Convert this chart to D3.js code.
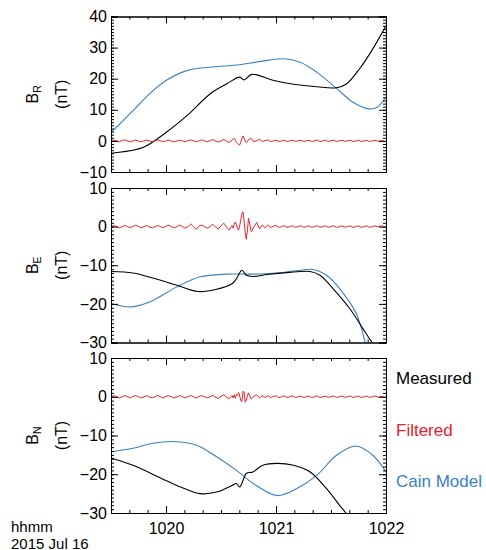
<!DOCTYPE html>
<html>
<head>
<meta charset="utf-8">
<script src="https://cdn.jsdelivr.net/npm/d3@7"></script>
<style>
  body { margin: 0; background: #fff; }
  svg { font-family: "Liberation Sans", Arial, sans-serif; }
</style>
</head>
<body>
<svg id="chart" width="486" height="550"></svg>
<script>
// time is in hhmm-style minutes (1019.5 = 10:19:30)
const xTicks = [1020, 1021, 1022]
const xTickLabels = ['1020', '1021', '1022']
const legendNames = ['Measured', 'Filtered', 'Cain Model']

// B_R panel
const measR_t = [1019.5, 1019.52, 1019.79, 1020.0, 1020.19, 1020.4, 1020.55, 1020.67, 1020.71, 1020.78, 1020.98, 1021.16, 1021.37, 1021.55, 1021.64, 1021.76, 1021.88, 1022.0]
const measR = [-4.0, -3.9, -2.1, 2.7, 8.1, 15.1, 18.3, 20.5, 19.6, 21.4, 19.4, 18.2, 17.4, 17.1, 18.3, 23.2, 29.6, 37.0]
const cainR_t = [1019.5, 1019.7, 1019.85, 1020.0, 1020.19, 1020.4, 1020.67, 1020.85, 1021.07, 1021.22, 1021.37, 1021.55, 1021.7, 1021.84, 1021.92, 1022.0]
const cainR = [2.7, 9.7, 15.1, 19.4, 22.6, 23.7, 24.5, 25.5, 26.4, 25.3, 22.1, 16.9, 12.4, 10.3, 10.8, 14.2]

// B_E panel
const measE_t = [1019.5, 1019.7, 1019.88, 1020.1, 1020.29, 1020.45, 1020.6, 1020.64, 1020.69, 1020.73, 1020.79, 1020.92, 1021.1, 1021.31, 1021.4, 1021.52, 1021.67, 1021.79, 1021.88, 1021.95]
const measE = [-11.6, -12.0, -13.3, -15.2, -16.8, -16.3, -14.8, -13.5, -11.3, -12.6, -12.9, -12.4, -11.9, -11.6, -12.6, -16.1, -21.2, -26.4, -30.3, -33]
const cainE_t = [1019.5, 1019.67, 1019.85, 1020.1, 1020.31, 1020.55, 1020.79, 1021.01, 1021.22, 1021.34, 1021.46, 1021.58, 1021.73, 1021.81, 1021.86]
const cainE = [-19.9, -20.8, -19.5, -15.6, -13.0, -12.3, -12.3, -12.0, -11.3, -11.1, -12.6, -16.1, -22.5, -29.9, -35]

// B_N panel
const measN_t = [1019.5, 1019.7, 1020.0, 1020.16, 1020.31, 1020.46, 1020.6, 1020.64, 1020.67, 1020.7, 1020.73, 1020.79, 1020.88, 1021.01, 1021.16, 1021.31, 1021.46, 1021.58, 1021.64, 1021.72]
const measN = [-15.8, -17.7, -21.6, -23.6, -25.0, -24.6, -22.9, -22.4, -23.3, -21.6, -19.8, -19.4, -17.7, -17.2, -17.7, -19.4, -23.7, -28.1, -30.2, -34]
const cainN_t = [1019.5, 1019.7, 1019.88, 1020.1, 1020.28, 1020.46, 1020.64, 1020.82, 1021.01, 1021.19, 1021.37, 1021.55, 1021.73, 1021.88, 1022.0]
const cainN = [-14.2, -13.3, -12.0, -11.6, -12.5, -15.5, -19.0, -22.9, -25.5, -23.7, -20.3, -15.1, -12.7, -15.1, -19.4]

// filtered series: 1.5 s samples, 0.6 s around the burst
const filtT = d3.range(0, 44).map(i => 1019.5 + i * 0.025)
  .concat(d3.range(0, 16).map(i => 1020.6 + i * 0.01))
  .concat(d3.range(1, 50).map(i => 1020.75 + i * 0.025))
const filtR = [
  0, 0.3, 0, -0.3, 0.1, 0.35, 0, -0.25, 0, 0.3, -0.1, -0.3, 0, 0.25, 0, -0.3, 0.1, 0.3, 0, -0.2, 0, 0.3,
  -0.1, -0.3, 0, 0.2, 0, -0.3, 0.1, 0.3, 0, -0.3, 0, 0.35, 0, -0.3, 0.1, 0.4, 0, -0.4, 0, 0.5, -0.1, -0.5,
  0.2, 0.6, 0.8, 0.3, -0.4, -0.9, -1.2, -1.3, -0.3, 0.8, 1.6, 0.9, 0, -0.5, -0.2, 0.4,
  0.8, -0.3, 0.1, 0.5, -0.2, 0.1, 0.3, -0.2, 0, 0.2, -0.2, 0, 0.2, -0.2, 0, 0.25, -0.15, 0, 0.2, -0.2, 0, 0.2, -0.2, 0,
  0.25, -0.2, 0, 0.2, -0.2, 0.05, 0.2, -0.2, 0, 0.2, -0.15, 0, 0.2, -0.2, 0, 0.2, -0.2, 0, 0.2, -0.2, 0, 0.2, -0.1, 0, 0.1
]
const filtE = [
  0, 0.3, 0, -0.3, 0, 0.3, 0, -0.3, 0.1, 0.35, 0, -0.3, 0, 0.3, -0.1, -0.3, 0, 0.3, 0, -0.3, 0.1, 0.35,
  0, -0.3, 0, 0.4, 0, -0.4, 0, 0.7, 0, -0.7, 0.1, 0.4, 0, -0.4, 0, 0.6, -0.1, -0.6, 0.2, 0.9, -0.1, -0.9,
  0.3, -0.4, 0.5, 1.2, 0.6, -0.5, -0.9, 0.2, 1.8, 3.2, 3.8, 1.5, -1.5, -3.3, -1.0, 2.2,
  -1.3, 0.0, 1.1, -0.6, 0.4, -0.3, 0.4, -0.2, 0.1, 0.3, -0.2, 0, 0.25, -0.2, 0, 0.25, -0.2, 0, 0.25, -0.2, 0, 0.2, -0.2, 0,
  0.25, -0.2, 0, 0.2, -0.2, 0.05, 0.2, -0.2, 0, 0.2, -0.15, 0, 0.2, -0.2, 0, 0.2, -0.2, 0, 0.2, -0.2, 0, 0.2, -0.1, 0.2, 0.1
]
const filtN = [
  0, 0.3, 0, -0.3, 0, 0.3, 0, -0.3, 0.1, 0.3, 0, -0.3, 0, 0.3, -0.1, -0.3, 0, 0.35, 0, -0.3, 0.1, 0.3,
  0, -0.3, 0, 0.3, 0, -0.3, 0, 0.35, 0, -0.35, 0.1, 0.3, 0, -0.3, 0, 0.35, -0.1, -0.4, 0.1, 0.5, -0.1, -0.5,
  0.3, -0.3, 0.5, -0.4, 0.6, 0.4, 1.1, 0.2, -1.0, -1.2, 1.4, 1.2, -1.4, -0.9, 0.2, 1.0,
  -0.6, 0.1, 0.5, -0.3, 0.3, -0.2, 0.3, -0.2, 0.1, 0.25, -0.2, 0, 0.25, -0.2, 0, 0.25, -0.2, 0, 0.2, -0.2, 0, 0.2, -0.2, 0,
  0.25, -0.2, 0, 0.2, -0.2, 0.05, 0.2, -0.2, 0, 0.2, -0.15, 0, 0.2, -0.2, 0, 0.2, -0.2, 0, 0.2, -0.2, 0, 0.2, -0.1, 0, 0.1
]

const BLACK = '#000'
const RED = '#e8212b'
const BLUE = '#3a80c3'

const svg = d3.select('#chart')
const left = 111, right = 386

const x = d3.scaleLinear().domain([1019.5, 1022]).range([left, right])

const panels = [
  { sub: 'R', top: 16.5, bottom: 172, dom: [-10, 40], ticks: [-10, 0, 10, 20, 30, 40],
    meas: [measR_t, measR], cain: [cainR_t, cainR], filt: filtR },
  { sub: 'E', top: 188, bottom: 342.5, dom: [-30, 10], ticks: [-30, -20, -10, 0, 10],
    meas: [measE_t, measE], cain: [cainE_t, cainE], filt: filtE },
  { sub: 'N', top: 358, bottom: 513, dom: [-30, 10], ticks: [-30, -20, -10, 0, 10],
    meas: [measN_t, measN], cain: [cainN_t, cainN], filt: filtN }
]

function pairs(ts, vs) {
  const n = Math.min(ts.length, vs.length)
  return d3.range(n).map(i => [ts[i], vs[i]])
}

const minorX = d3.range(0, 16).map(i => 1019.5 + i / 6)

panels.forEach((p, k) => {
  const y = d3.scaleLinear().domain(p.dom).range([p.bottom, p.top])
  const g = svg.append('g')

  // clip for the curves
  g.append('clipPath').attr('id', 'clip' + k)
    .append('rect').attr('x', left).attr('y', p.top)
    .attr('width', right - left).attr('height', p.bottom - p.top)

  const line = d3.line().x(d => x(d[0])).y(d => y(d[1])).curve(d3.curveCatmullRom.alpha(0.5))
  const redLine = d3.line().x(d => x(d[0])).y(d => y(d[1]))

  const plot = g.append('g').attr('clip-path', 'url(#clip' + k + ')')
  plot.append('path').datum(pairs(p.cain[0], p.cain[1]))
    .attr('d', line).attr('fill', 'none').attr('stroke', BLUE).attr('stroke-width', 1.1)
  plot.append('path').datum(pairs(p.meas[0], p.meas[1]))
    .attr('d', line).attr('fill', 'none').attr('stroke', BLACK).attr('stroke-width', 1.1)
  plot.append('path').datum(pairs(filtT, p.filt))
    .attr('d', redLine).attr('fill', 'none').attr('stroke', RED).attr('stroke-width', 1)

  // y axes, ticks pointing inward on both sides
  const minorY = d3.range(p.dom[0], p.dom[1] + 1)
  g.append('g').attr('transform', `translate(${left},0)`)
    .call(d3.axisLeft(y).tickValues(minorY).tickSize(-3).tickFormat(''))
  g.append('g').attr('transform', `translate(${right},0)`)
    .call(d3.axisRight(y).tickValues(minorY).tickSize(-3).tickFormat(''))
  g.append('g').attr('class', 'ylab').attr('transform', `translate(${left},0)`)
    .call(d3.axisLeft(y).tickValues(p.ticks).tickSize(-7).tickPadding(4).tickFormat(d3.format('d')))
  g.append('g').attr('transform', `translate(${right},0)`)
    .call(d3.axisRight(y).tickValues(p.ticks).tickSize(-7).tickFormat(''))

  // x axes
  g.append('g').attr('transform', `translate(0,${p.bottom})`)
    .call(d3.axisBottom(x).tickValues(minorX).tickSize(-3).tickFormat(''))
  g.append('g').attr('transform', `translate(0,${p.top})`)
    .call(d3.axisTop(x).tickValues(minorX).tickSize(-3).tickFormat(''))
  const xb = g.append('g').attr('transform', `translate(0,${p.bottom})`)
    .call(d3.axisBottom(x).tickValues(xTicks).tickSize(-7).tickPadding(10)
      .tickFormat((d, i) => k === 2 ? xTickLabels[i] : ''))
  g.append('g').attr('transform', `translate(0,${p.top})`)
    .call(d3.axisTop(x).tickValues(xTicks).tickSize(-7).tickFormat(''))

  g.selectAll('.domain').attr('stroke', '#000')
  g.selectAll('.tick line').attr('stroke', '#000')
  g.selectAll('.tick text').attr('fill', '#000')
    .style('font-family', '"Liberation Sans", Arial, sans-serif').style('font-size', '16px')
  xb.selectAll('.tick text').attr('dy', '0.71em')

  // y title: B with subscript, and (nT)
  const cy = (p.top + p.bottom) / 2
  const t1 = g.append('text').attr('transform', `translate(38,${cy}) rotate(-90)`)
    .attr('text-anchor', 'middle').style('font-size', '16px')
  t1.append('tspan').text('B')
  t1.append('tspan').attr('dy', 3).style('font-size', '10.5px').text(p.sub)
  g.append('text').attr('transform', `translate(67,${cy}) rotate(-90)`)
    .attr('text-anchor', 'middle').style('font-size', '16px').text('(nT)')
})

// legend
const legendColors = [BLACK, RED, BLUE]
svg.selectAll('text.legend').data(legendNames).enter().append('text')
  .attr('class', 'legend')
  .attr('x', 396)
  .attr('y', (d, i) => 384 + i * 51.5)
  .attr('fill', (d, i) => legendColors[i])
  .style('font-size', '17px')
  .text(d => d)

// time labels in the corner
svg.append('text').attr('x', 11).attr('y', 532).style('font-size', '15px').text('hhmm')
svg.append('text').attr('x', 11).attr('y', 548.5).style('font-size', '15px').text('2015 Jul 16')
</script>
</body>
</html>
